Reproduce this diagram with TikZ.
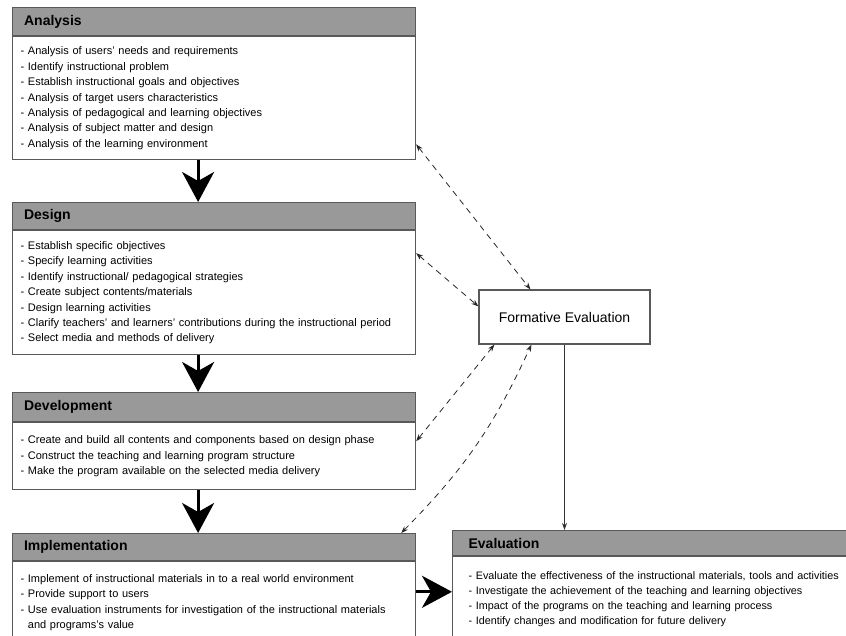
\documentclass[tikz,border=0pt]{standalone}
\usepackage{fontspec}
\setmainfont{Liberation Sans}
\usetikzlibrary{arrows.meta,positioning}

\tikzset{
  phasehead/.style={draw=black!65, line width=1.2pt, fill=black!40, anchor=north west,
    minimum height=28pt, text width=380pt, inner xsep=11.5pt, align=left,
    font=\fontsize{14}{16}\selectfont\bfseries},
  phasebody/.style={draw=black!65, line width=1.2pt, fill=white, anchor=north west,
    text width=387pt, inner xsep=8pt, inner ysep=0pt, align=left,
    font=\fontsize{11}{15.4}\selectfont},
  formbox/.style={draw=black!65, line width=1.2pt, minimum width=171pt, minimum height=54pt,
    font=\fontsize{14}{16}\selectfont},
  bigarrow/.style={line width=3pt, -{Stealth[length=30pt,width=32pt,inset=9pt]}},
  dashlink/.style={black!85, line width=0.8pt, dash pattern=on 6pt off 5pt,
    {Stealth[length=7pt,width=5pt]}-{Stealth[length=7pt,width=5pt]}}
}

\begin{document}
\begin{tikzpicture}[x=1pt,y=1pt]
    \useasboundingbox (0,0) rectangle (846,-636);

    % the four phases down the left
    \node[phasehead] (anah) at (12,-7) {Analysis};
    \node[phasebody, minimum height=123pt] (ana) at (anah.south west) {%
      - Analysis of users' needs and requirements\\
      - Identify instructional problem\\
      - Establish instructional goals and objectives\\
      - Analysis of target users characteristics\\
      - Analysis of pedagogical and learning objectives\\
      - Analysis of subject matter and design\\
      - Analysis of the learning environment};

    \node[phasehead, minimum height=27pt] (desh) at (12,-202) {Design};
    \node[phasebody, minimum height=124pt] (des) at (desh.south west) {%
      - Establish specific objectives\\
      - Specify learning activities\\
      - Identify instructional/ pedagogical strategies\\
      - Create subject contents/materials\\
      - Design learning activities\\
      - Clarify teachers' and learners' contributions during the instructional period\\
      - Select media and methods of delivery};

    \node[phasehead, minimum height=29pt] (devh) at (12,-392) {Development};
    \node[phasebody, minimum height=67pt] (dev) at (devh.south west) {%
      - Create and build all contents and components based on design phase\\
      - Construct the teaching and learning program structure\\
      - Make the program available on the selected media delivery};

    \node[phasehead, minimum height=27pt] (imph) at (12,-533) {Implementation};
    \node[phasebody, minimum height=82pt] (imp) at (imph.south west) {%
      - Implement of instructional materials in to a real world environment\\
      - Provide support to users\\
      - Use evaluation instruments for investigation of the instructional materials\\
      \phantom{- }and programs's value};

    % evaluation, bottom right (runs off the page)
    \node[phasehead, minimum height=25pt, text width=400pt, inner xsep=16pt] (evh) at (452,-530) {Evaluation};
    \node[phasebody, minimum height=85pt, text width=400pt, inner xsep=16pt,
      font=\fontsize{10.8}{15.2}\selectfont] (evb) at (evh.south west) {%
      - Evaluate the effectiveness of the instructional materials, tools and activities\\
      - Investigate the achievement of the teaching and learning objectives\\
      - Impact of the programs on the teaching and learning process\\
      - Identify changes and modification for future delivery};

    \node[formbox] (fe) at (564.5,-317) {Formative Evaluation};

    % flow between phases
    \draw[bigarrow] ([xshift=-16pt]ana.south) -- ([xshift=-16pt]desh.north);
    \draw[bigarrow] ([xshift=-16pt]des.south) -- ([xshift=-16pt]devh.north);
    \draw[bigarrow] ([xshift=-16pt]dev.south) -- ([xshift=-16pt]imph.north);
    \draw[bigarrow] ([yshift=11pt]imp.east) -- ([yshift=11pt]imp.east -| evb.west);

    % formative evaluation links
    \draw[dashlink] ([yshift=16pt]ana.south east) -- ([xshift=52pt]fe.north west);
    \draw[dashlink] ([yshift=-23pt]des.north east) -- ([yshift=-17pt]fe.north west);
    \draw[dashlink] ([yshift=-19pt]dev.north east) -- ([xshift=16pt]fe.south west);
    \draw[dashlink] ([xshift=-15pt]imph.north east) to[bend right=10] ([xshift=53pt]fe.south west);
    \draw[black!80, line width=0.8pt, -{Stealth[length=7pt,width=5pt]}] (fe.south) -- (fe.south |- evh.north);
\end{tikzpicture}
\end{document}
